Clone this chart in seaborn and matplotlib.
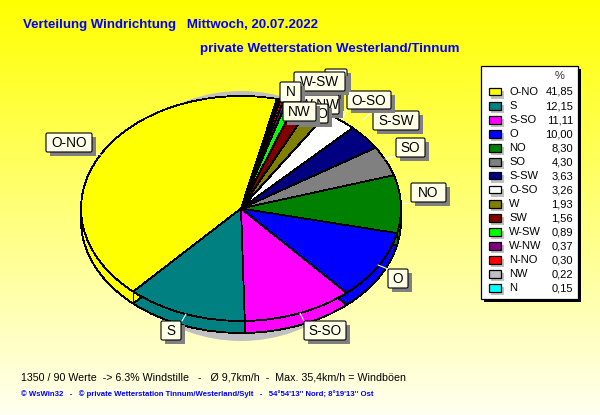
import numpy as np
import seaborn as sns
import matplotlib
matplotlib.use('Agg')
import matplotlib.pyplot as plt
from matplotlib.patches import Ellipse, Rectangle, FancyBboxPatch

directions = ["O-NO", "S", "S-SO", "O", "NO", "SO", "S-SW", "O-SO", "W", "SW", "W-SW", "W-NW", "N-NO", "NW", "N"]
percent = [41.85, 12.15, 11.11, 10.00, 8.30, 4.30, 3.63, 3.26, 1.93, 1.56, 0.89, 0.37, 0.30, 0.22, 0.15]
percent_text = ["41,85", "12,15", "11,11", "10,00", "8,30", "4,30", "3,63", "3,26", "1,93", "1,56", "0,89", "0,37", "0,30", "0,22", "0,15"]
slice_colors = ["#ffff00", "#008080", "#ff00ff", "#0000ff", "#008000", "#808080", "#000080", "#ffffff",
                "#808000", "#800000", "#00ff00", "#800080", "#ff0000", "#c0c0c0", "#00ffff"]

title_1 = "Verteilung Windrichtung   Mittwoch, 20.07.2022"
title_2 = "private Wetterstation Westerland/Tinnum"
footer_1 = "1350 / 90 Werte  -> 6.3% Windstille   -   Ø 9,7km/h  -  Max. 35,4km/h = Windböen"
footer_2 = "© WsWin32   -   © private Wetterstation Tinnum/Westerland/Sylt   -   54°54'13'' Nord; 8°19'13'' Ost"

# label boxes in pixels: text, x0, y0, x1, y1, leader line. drawn in this order
label_boxes = [
    ("O-NO", 46, 133, 92, 152, (93, 153, 101, 155)),
    ("S", 161, 321, 181, 340, (186, 314, 182, 321)),
    ("S-SO", 304, 321, 346, 340, (300, 313, 304, 321)),
    ("O", 388, 269, 408, 288, (378, 265, 388, 269)),
    ("NO", 411, 183, 446, 202, (402, 203, 411, 203)),
    ("SO", 396, 138, 425, 157, (385, 159, 396, 156)),
    ("S-SW", 373, 111, 419, 130, (363, 120, 373, 111)),
    ("O-SO", 347, 91, 391, 109, (342, 120, 347, 109)),
    ("W", 325, 69, 347, 88, None),
    ("SW", 310, 88, 340, 107, None),
    ("W-NW", 300, 95, 339, 114, None),
    ("N-NO", 295, 104, 328, 123, None),
    ("W-SW", 294, 72, 345, 91, None),
    ("N", 280, 82, 301, 102, None),
    ("NW", 283, 102, 316, 121, None),
]

sns.set_theme(style="white")
plt.rcParams['font.family'] = ['Liberation Sans', 'DejaVu Sans']
palette = sns.color_palette(slice_colors)

W, H = 600, 415
cx, cy, rx, ry, depth = 241, 208.5, 160, 112.5, 12
start = 77

fig = plt.figure(figsize=(W / 100, H / 100), dpi=100)

# background fade
bg = fig.add_axes([0, 0, 1, 1], zorder=0)
fade = np.linspace(0, 0.94, 256).reshape(-1, 1)
bg.imshow(np.dstack([np.ones_like(fade), np.ones_like(fade), fade]), aspect='auto', extent=(0, W, H, 0))
bg.axis('off')

# pie axes, one data unit is one radius
ax = fig.add_axes([0, 0, 1, 1], zorder=1)
ax.patch.set_alpha(0)
ax.add_patch(Ellipse((0, -7.5 / ry), 280 / rx, 250 / ry, color="#c0c0c0", lw=0))
wedge = dict(edgecolor="black", linewidth=0.6, antialiased=False)
ax.pie(percent, colors=palette, startangle=start, center=(0, -depth / ry), wedgeprops=wedge, frame=False)
ax.pie(percent, colors=palette, startangle=start, center=(0, 0), wedgeprops=wedge, frame=False)

# vertical edges on the front wall
angles = np.radians(start + np.cumsum(percent) / np.sum(percent) * 360)
for a in angles:
    if np.sin(a) < 0:
        ax.plot([np.cos(a)] * 2, [np.sin(a), np.sin(a) - depth / ry], color="black", lw=0.7, zorder=20)

ax.set_aspect('auto')
ax.set_xlim(-cx / rx, (W - cx) / rx)
ax.set_ylim((cy - H) / ry, cy / ry)
ax.axis('off')

# everything else in pixels
px = fig.add_axes([0, 0, 1, 1], zorder=2)
px.patch.set_alpha(0)
px.set_xlim(0, W)
px.set_ylim(H, 0)
px.axis('off')

px.text(23, 25, title_1, color="#0000ff", fontsize=9.5, fontweight='bold', va='center')
px.text(200, 49, title_2, color="#0000ff", fontsize=9.6, fontweight='bold', va='center')
px.text(21, 377, footer_1, color="black", fontsize=7.7, va='center')
px.text(21, 394, footer_2, color="#0000ff", fontsize=5.55, fontweight='bold', va='center')

for i, (name, x0, y0, x1, y1, leader) in enumerate(label_boxes):
    z = 3 + i * 0.01
    if leader:
        px.plot(leader[::2], leader[1::2], color="white", lw=0.8, zorder=2.9)
    px.add_patch(Rectangle((x0 + 4, y0 + 4), x1 - x0, y1 - y0, color="#808080", lw=0, zorder=z))
    px.add_patch(FancyBboxPatch((x0, y0), x1 - x0, y1 - y0, boxstyle="round,pad=0,rounding_size=1.5",
                                fc="#ffffe8", ec="black", lw=0.8, zorder=z))
    px.text((x0 + x1) / 2, (y0 + y1) / 2 + 0.5, name, fontsize=9.8, color="black", ha='center', va='center', zorder=z)

# legend
px.add_patch(Rectangle((484, 69), 97, 233, color="black", lw=0, zorder=3))
px.add_patch(Rectangle((481, 66), 97, 233, fc="white", ec="black", lw=0.9, zorder=3.1))
px.text(560, 76, "%", fontsize=8, color="#303030", ha='center', va='center', zorder=3.2)
for i, (name, val) in enumerate(zip(directions, percent_text)):
    y = 92 + i * 14
    px.add_patch(Rectangle((491, y - 1), 13, 8, color="#c0c0c0", lw=0, zorder=3.2))
    px.add_patch(Rectangle((488.5, y - 4), 12.5, 7.5, fc=palette[i], ec="black", lw=0.9, zorder=3.3))
    px.text(509, y, name, fontsize=8, color="black", va='center', zorder=3.3)
    px.text(573, y, val, fontsize=8, color="black", ha='right', va='center', zorder=3.3)

fig.savefig("out.png", dpi=100)
